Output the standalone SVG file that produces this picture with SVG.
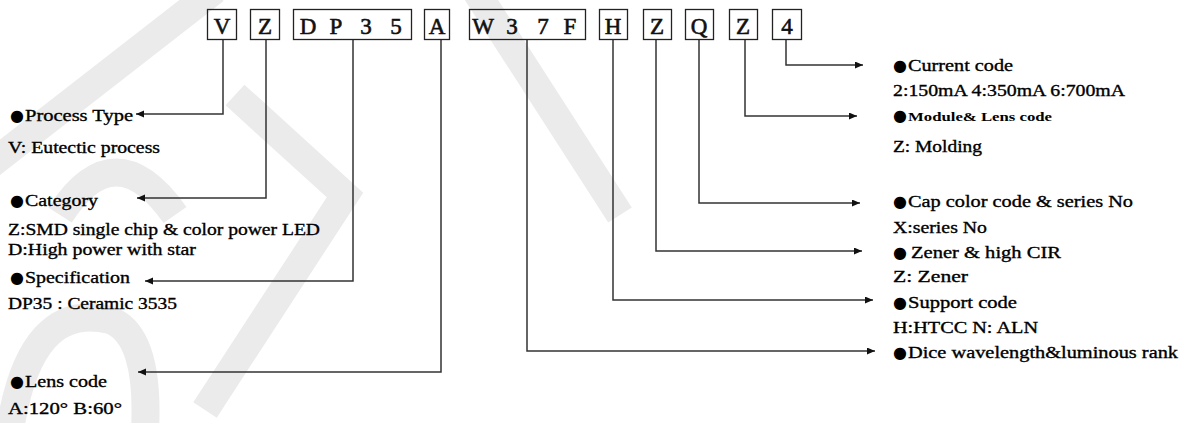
<svg xmlns="http://www.w3.org/2000/svg" width="1182" height="423" viewBox="0 0 1182 423">
<style>
.wm{fill:none;stroke:#ebebeb;stroke-width:28;stroke-linecap:butt}
.box{fill:none;stroke:#222;stroke-width:1.3}
.bt{font-family:"Liberation Serif",serif;font-size:23px;fill:#111;stroke:#111;stroke-width:0.6;text-anchor:middle}
.t{font-family:"Liberation Serif",serif;font-size:17px;fill:#000;stroke:#000;stroke-width:0.35}
.s{font-family:"Liberation Serif",serif;font-size:13px;font-weight:bold;fill:#000}
.b{font-family:"DejaVu Sans",sans-serif;font-size:16px;fill:#000}
.c{fill:none;stroke:#333;stroke-width:1.5}
</style>
<defs>
<marker id="ah" markerUnits="userSpaceOnUse" markerWidth="9" markerHeight="8" refX="8" refY="3.5" orient="auto">
<path d="M0,0 L8,3.5 L0,7 z" fill="#111"/>
</marker>
</defs>
<rect width="1182" height="423" fill="#fff"/>
<g id="watermark">
<path class="wm" d="M215,-10 L-10,165"/>
<path class="wm" d="M235,95 L345,195 L205,410"/>
<path class="wm" d="M10,430 Q30,300 110,320 Q150,335 145,430"/>
<path class="wm" d="M60,215 Q115,130 175,215"/>
<path class="wm" d="M475,-10 L620,215"/>
</g>
<g id="connectors">
<path class="c" d="M223,40 V114 H136" marker-end="url(#ah)"/>
<path class="c" d="M266,40 V198 H137" marker-end="url(#ah)"/>
<path class="c" d="M353,40 V281 H145" marker-end="url(#ah)"/>
<path class="c" d="M441,40 V372 H138" marker-end="url(#ah)"/>
<path class="c" d="M527,40 V351 H875" marker-end="url(#ah)"/>
<path class="c" d="M613,40 V300 H873" marker-end="url(#ah)"/>
<path class="c" d="M656,40 V251 H862" marker-end="url(#ah)"/>
<path class="c" d="M699,40 V203 H860" marker-end="url(#ah)"/>
<path class="c" d="M745,40 V116 H857" marker-end="url(#ah)"/>
<path class="c" d="M786,40 V65 H863" marker-end="url(#ah)"/>
</g>
<g id="box-V"><rect class="box" x="207.5" y="9.5" width="29" height="30"/><text class="bt" x="222" y="34">V</text></g>
<g id="box-Z1"><rect class="box" x="250.5" y="9.5" width="29" height="30"/><text class="bt" x="265" y="34">Z</text></g>
<g id="box-DP35"><rect class="box" x="293.5" y="9.5" width="118" height="30"/><text class="bt" x="308 336 366 396" y="34">DP35</text></g>
<g id="box-A"><rect class="box" x="424.5" y="9.5" width="25" height="30"/><text class="bt" x="437" y="34">A</text></g>
<g id="box-W37F"><rect class="box" x="469.5" y="9.5" width="116" height="30"/><text class="bt" x="483 512 543 570" y="34">W37F</text></g>
<g id="box-H"><rect class="box" x="599.5" y="9.5" width="28" height="30"/><text class="bt" x="613" y="34">H</text></g>
<g id="box-Z2"><rect class="box" x="643.5" y="9.5" width="28" height="30"/><text class="bt" x="657" y="34">Z</text></g>
<g id="box-Q"><rect class="box" x="685.5" y="9.5" width="28" height="30"/><text class="bt" x="699" y="34">Q</text></g>
<g id="box-Z3"><rect class="box" x="729.5" y="9.5" width="28" height="30"/><text class="bt" x="743" y="34">Z</text></g>
<g id="box-4"><rect class="box" x="772.5" y="9.5" width="29" height="30"/><text class="bt" x="787" y="34">4</text></g>
<g id="label-process">
<text class="b" x="10" y="121">●</text><text class="t" x="25" y="121" textLength="108" lengthAdjust="spacingAndGlyphs">Process Type</text>
<text class="t" x="8" y="153" textLength="152" lengthAdjust="spacingAndGlyphs">V: Eutectic process</text>
</g>
<g id="label-category">
<text class="b" x="10" y="206">●</text><text class="t" x="25" y="206" textLength="73" lengthAdjust="spacingAndGlyphs">Category</text>
<text class="t" x="8" y="235" textLength="312" lengthAdjust="spacingAndGlyphs">Z:SMD single chip &amp; color power LED</text>
<text class="t" x="8" y="255" textLength="188" lengthAdjust="spacingAndGlyphs">D:High power with star</text>
</g>
<g id="label-spec">
<text class="b" x="10" y="283">●</text><text class="t" x="25" y="283" textLength="105" lengthAdjust="spacingAndGlyphs">Specification</text>
<text class="t" x="8" y="309" textLength="169" lengthAdjust="spacingAndGlyphs">DP35 : Ceramic 3535</text>
</g>
<g id="label-lens">
<text class="b" x="10" y="387">●</text><text class="t" x="25" y="387" textLength="82" lengthAdjust="spacingAndGlyphs">Lens code</text>
<text class="t" x="8" y="414" textLength="114" lengthAdjust="spacingAndGlyphs">A:120°  B:60°</text>
</g>
<g id="label-current">
<text class="b" x="893" y="71">●</text><text class="t" x="908" y="71" textLength="105" lengthAdjust="spacingAndGlyphs">Current code</text>
<text class="t" x="893" y="96" textLength="232" lengthAdjust="spacingAndGlyphs">2:150mA 4:350mA 6:700mA</text>
</g>
<g id="label-module">
<text class="b" x="893" y="121">●</text><text class="s" x="908" y="121" textLength="144" lengthAdjust="spacingAndGlyphs">Module&amp; Lens code</text>
<text class="t" x="893" y="152" textLength="89" lengthAdjust="spacingAndGlyphs">Z: Molding</text>
</g>
<g id="label-cap">
<text class="b" x="893" y="207">●</text><text class="t" x="908" y="207" textLength="225" lengthAdjust="spacingAndGlyphs">Cap color code &amp; series No</text>
<text class="t" x="893" y="233" textLength="94" lengthAdjust="spacingAndGlyphs">X:series No</text>
</g>
<g id="label-zener">
<text class="b" x="893" y="258">●</text><text class="t" x="911" y="258" textLength="150" lengthAdjust="spacingAndGlyphs">Zener &amp; high CIR</text>
<text class="t" x="893" y="282" textLength="75" lengthAdjust="spacingAndGlyphs">Z: Zener</text>
</g>
<g id="label-support">
<text class="b" x="893" y="308">●</text><text class="t" x="908" y="308" textLength="109" lengthAdjust="spacingAndGlyphs">Support code</text>
<text class="t" x="893" y="333" textLength="145" lengthAdjust="spacingAndGlyphs">H:HTCC N: ALN</text>
</g>
<g id="label-dice">
<text class="b" x="893" y="358">●</text><text class="t" x="908" y="358" textLength="270" lengthAdjust="spacingAndGlyphs">Dice wavelength&amp;luminous rank</text>
</g>
</svg>
